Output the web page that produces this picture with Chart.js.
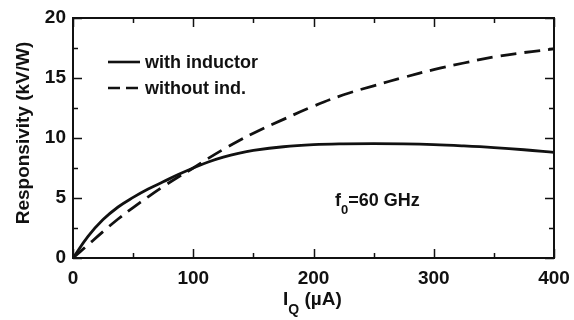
<!DOCTYPE html>
<html>
<head>
<meta charset="utf-8">
<script src="https://cdn.jsdelivr.net/npm/chart.js@4.4.1/dist/chart.umd.min.js"></script>
<style>
  html, body { margin: 0; padding: 0; background: #fff; }
  #wrap { width: 574px; height: 320px; position: relative; }
</style>
</head>
<body>
<div id="wrap"><canvas id="chart"></canvas></div>
<script>
// Bias current I_Q (uA)
const currentUA = [0, 12.5, 25, 37.5, 50, 62.5, 75, 87.5, 100, 112.5, 125, 137.5, 150, 175, 200, 225, 250, 275, 300, 325, 350, 375, 400];
// Responsivity (kV/W)
const withInductor = [0, 1.8, 3.2, 4.25, 5.05, 5.75, 6.35, 6.95, 7.5, 8.0, 8.4, 8.72, 8.96, 9.27, 9.44, 9.51, 9.53, 9.51, 9.45, 9.34, 9.2, 9.02, 8.8];
const withoutInductor = [0, 1.1, 2.2, 3.25, 4.2, 5.1, 5.95, 6.75, 7.5, 8.3, 9.05, 9.75, 10.4, 11.55, 12.65, 13.6, 14.35, 15.05, 15.7, 16.25, 16.75, 17.12, 17.42];

const xTicks = [0, 100, 200, 300, 400];
const yTicks = [0, 5, 10, 15, 20];
const xMinorTicks = [50, 150, 250, 350];
const yMinorTicks = [2.5, 7.5, 12.5, 17.5];

const seriesNames = ['with inductor', 'without ind.'];

const FONT = "'Liberation Sans', Arial, Helvetica, sans-serif";

const toPoints = (ys) => currentUA.map((x, i) => ({ x: x, y: ys[i] }));

// Frame, inward ticks on all four sides, legend, annotation and titles
const decorPlugin = {
  id: 'decor',
  afterDraw(chart) {
    const ctx = chart.ctx;
    const area = chart.chartArea;
    const xs = chart.scales.x;
    const ys = chart.scales.y;
    ctx.save();
    ctx.strokeStyle = '#111';
    ctx.lineWidth = 2;
    ctx.strokeRect(area.left, area.top, area.right - area.left, area.bottom - area.top);

    const major = 9, minor = 5;
    ctx.lineWidth = 1.5;
    ctx.beginPath();
    const xTick = (v, len) => {
      const px = Math.round(xs.getPixelForValue(v)) + 0.5;
      ctx.moveTo(px, area.bottom); ctx.lineTo(px, area.bottom - len);
      ctx.moveTo(px, area.top); ctx.lineTo(px, area.top + len);
    };
    const yTick = (v, len) => {
      const py = Math.round(ys.getPixelForValue(v)) + 0.5;
      ctx.moveTo(area.left, py); ctx.lineTo(area.left + len, py);
      ctx.moveTo(area.right, py); ctx.lineTo(area.right - len, py);
    };
    xTicks.forEach(v => xTick(v, major));
    xMinorTicks.forEach(v => xTick(v, minor));
    yTicks.forEach(v => yTick(v, major));
    yMinorTicks.forEach(v => yTick(v, minor));
    ctx.stroke();

    // legend
    ctx.fillStyle = '#111';
    ctx.font = 'bold 18px ' + FONT;
    ctx.textBaseline = 'middle';
    ctx.textAlign = 'left';
    const legendRows = [
      { y: 62, dash: [] },
      { y: 88, dash: [12, 6] }
    ];
    legendRows.forEach((row, i) => {
      ctx.lineWidth = 2.6;
      ctx.setLineDash(row.dash);
      ctx.beginPath();
      ctx.moveTo(108, row.y);
      ctx.lineTo(140, row.y);
      ctx.stroke();
      ctx.setLineDash([]);
      ctx.fillText(seriesNames[i], 145, row.y + 1);
    });

    // annotation f0=60 GHz
    ctx.textBaseline = 'alphabetic';
    let x = 335;
    ctx.font = 'bold 18px ' + FONT;
    ctx.fillText('f', x, 206);
    x += ctx.measureText('f').width;
    ctx.font = 'bold 13px ' + FONT;
    ctx.fillText('0', x, 214);
    x += ctx.measureText('0').width;
    ctx.font = 'bold 18px ' + FONT;
    ctx.fillText('=60 GHz', x, 206);

    // x title I_Q (uA)
    x = 283;
    ctx.font = 'bold 19px ' + FONT;
    ctx.fillText('I', x, 305);
    x += ctx.measureText('I').width;
    ctx.font = 'bold 14px ' + FONT;
    ctx.fillText('Q', x, 314);
    x += ctx.measureText('Q').width;
    ctx.font = 'bold 19px ' + FONT;
    ctx.fillText(' (\u00b5A)', x, 305);

    // y title
    ctx.save();
    ctx.translate(29, 133);
    ctx.rotate(-Math.PI / 2);
    ctx.textAlign = 'center';
    ctx.font = 'bold 19px ' + FONT;
    ctx.fillText('Responsivity (kV/W)', 0, 0);
    ctx.restore();

    ctx.restore();
  }
};

new Chart(document.getElementById('chart'), {
  type: 'line',
  data: {
    datasets: [{
      label: seriesNames[0],
      data: toPoints(withInductor),
      borderColor: '#111',
      borderWidth: 2.8,
      pointRadius: 0,
      tension: 0.4,
      fill: false
    }, {
      label: seriesNames[1],
      data: toPoints(withoutInductor),
      borderColor: '#111',
      borderWidth: 2.8,
      borderDash: [16, 8],
      pointRadius: 0,
      tension: 0.4,
      fill: false
    }]
  },
  options: {
    responsive: true,
    maintainAspectRatio: false,
    animation: false,
    layout: { padding: { top: 18, right: 20, left: 0, bottom: 0 } },
    plugins: {
      legend: { display: false },
      tooltip: { enabled: false }
    },
    scales: {
      x: {
        type: 'linear',
        min: 0,
        max: 400,
        grid: { display: false, drawTicks: false },
        border: { display: false },
        afterBuildTicks: (scale) => { scale.ticks = xTicks.map(v => ({ value: v })); },
        afterFit: (scale) => {
          scale.height = 62;
          scale.paddingLeft = 0;
          scale.paddingRight = 0;
        },
        ticks: {
          color: '#111',
          padding: 9,
          maxRotation: 0,
          font: { family: FONT, size: 19, weight: 'bold' }
        }
      },
      y: {
        min: 0,
        max: 20,
        grid: { display: false, drawTicks: false },
        border: { display: false },
        afterBuildTicks: (scale) => { scale.ticks = yTicks.map(v => ({ value: v })); },
        afterFit: (scale) => {
          scale.width = 73;
          scale.paddingTop = 0;
          scale.paddingBottom = 0;
        },
        ticks: {
          color: '#111',
          padding: 7,
          font: { family: FONT, size: 19, weight: 'bold' }
        }
      }
    }
  },
  plugins: [decorPlugin]
});
</script>
</body>
</html>
